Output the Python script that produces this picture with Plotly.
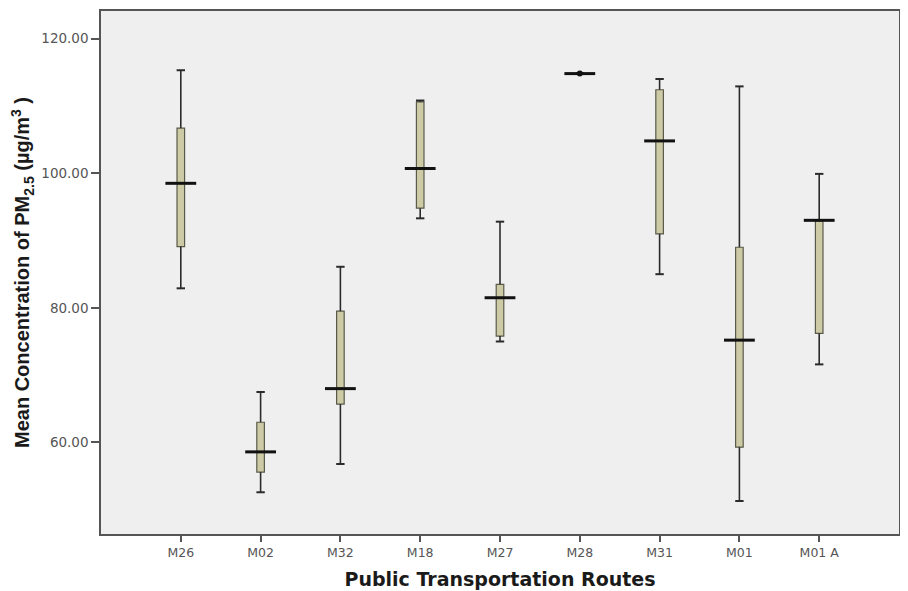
import plotly.graph_objects as go

routes = ["M26", "M02", "M32", "M18", "M27", "M28", "M31", "M01", "M01 A"]
means = [98.5, 58.6, 68.0, 100.7, 81.5, 114.8, 104.8, 75.2, 93.0]
box_low = [89.1, 55.6, 65.7, 94.8, 75.8, 114.8, 91.0, 59.3, 76.2]
box_high = [106.7, 63.0, 79.5, 110.6, 83.5, 114.8, 112.4, 89.0, 92.9]
whisk_low = [82.9, 52.6, 56.8, 93.3, 75.0, 114.8, 85.0, 51.3, 71.6]
whisk_high = [115.3, 67.5, 86.1, 110.8, 92.8, 114.8, 114.0, 112.9, 99.9]

# whisker segments built from data
wx, wy = [], []
for r, bl, bh, wl, wh in zip(routes, box_low, box_high, whisk_low, whisk_high):
    wx += [r, r, None, r, r, None]
    wy += [bh, wh, None, bl, wl, None]

fig = go.Figure()
fig.add_trace(go.Scatter(x=wx, y=wy, mode="lines",
                         line=dict(color="#2b2b2b", width=1.6),
                         hoverinfo="skip", showlegend=False))
# whisker caps
fig.add_trace(go.Scatter(x=routes + routes, y=whisk_low + whisk_high, mode="markers",
                         marker=dict(symbol="line-ew", size=6,
                                     line=dict(color="#2b2b2b", width=2)),
                         showlegend=False))
# boxes
fig.add_trace(go.Bar(x=routes, base=box_low,
                     y=[h - l for h, l in zip(box_high, box_low)],
                     width=0.095, marker=dict(color="#cdcaa6",
                                              line=dict(color="#5a5a4a", width=1.2)),
                     showlegend=False))
# mean lines
fig.add_trace(go.Scatter(x=routes, y=means, mode="markers",
                         marker=dict(symbol="line-ew", size=22,
                                     line=dict(color="#111111", width=3)),
                         showlegend=False))
fig.add_trace(go.Scatter(x=[routes[5]], y=[means[5]], mode="markers",
                         marker=dict(symbol="circle", size=6, color="#111111"),
                         showlegend=False))

# page body has an 8px margin, so the figure is sized/positioned to compensate
fig.update_layout(
    width=893, height=583,
    margin=dict(l=93, r=2, t=1, b=57),
    paper_bgcolor="white", plot_bgcolor="#efefef",
    font=dict(family="DejaVu Sans, sans-serif", color="#444"),
    barmode="overlay",
)
fig.update_xaxes(
    type="category", range=[-1, 9],
    showgrid=False, showline=True, linecolor="#555", linewidth=1.5, mirror=True,
    ticks="outside", ticklen=6, tickwidth=1.5, tickcolor="#555",
    tickfont=dict(size=12.5, color="#555"),
    title=dict(text="<b>Public Transportation Routes</b>",
               font=dict(family="DejaVu Sans, sans-serif", size=19, color="#1a1a1a"),
               standoff=14),
)
fig.update_yaxes(
    range=[46.4, 124.1], automargin=False,
    tickvals=[60, 80, 100, 120], ticktext=["60.00", "80.00", "100.00", "120.00"],
    showgrid=False, zeroline=False,
    showline=True, linecolor="#555", linewidth=1.5, mirror=True,
    ticks="outside", ticklen=8, tickwidth=1.5, tickcolor="#555",
    tickfont=dict(size=13.5, color="#555"),
    title=dict(text="<b>Mean Concentration of PM<sub>2.5</sub> (µg/m<sup>3</sup> )</b>",
               font=dict(family="Liberation Sans, Arial, sans-serif", size=20, color="#1a1a1a"),
               standoff=12),
)

fig.write_html("out.html")
